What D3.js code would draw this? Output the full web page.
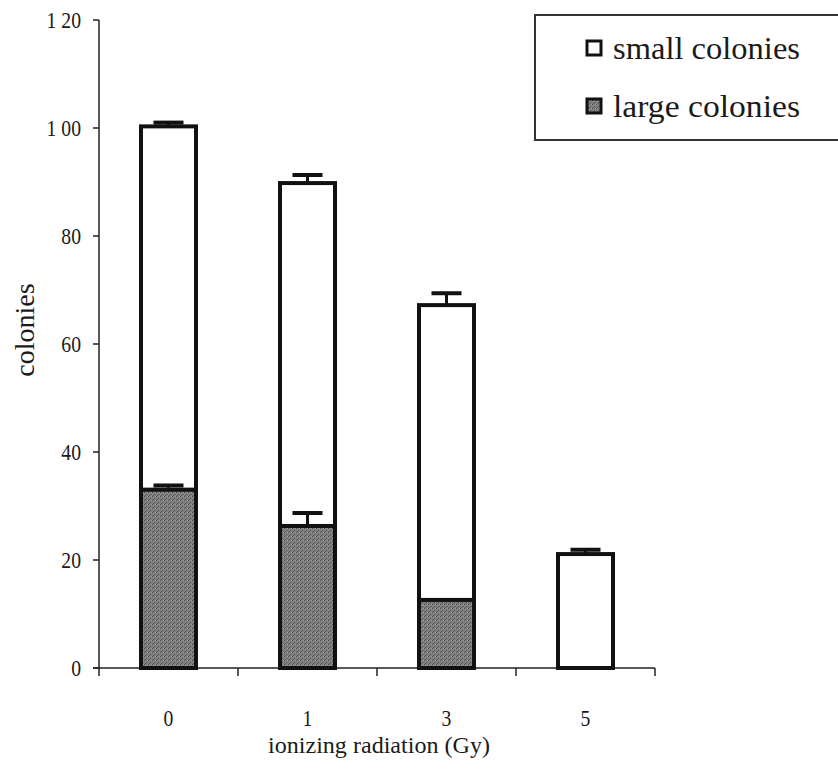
<!DOCTYPE html>
<html><head><meta charset="utf-8">
<script src="https://cdn.jsdelivr.net/npm/d3@7"></script>
<style>body{margin:0;background:#fff}svg{display:block}text{font-family:"Liberation Serif","Times New Roman",serif;fill:#1a1a1a}</style>
</head><body>
<svg id="c" width="838" height="770"></svg>
<script>
const categories = ["0","1","3","5"];
const largeColonies = [33.0, 26.3, 12.6, 0];
const smallColonies = [67.3, 63.5, 54.6, 21.1];
const totalErr = [0.7, 1.5, 2.2, 0.8];
const largeErr = [0.8, 2.4, 0, 0];
const yTicks = [0,20,40,60,80,100,120];
const yTickLabels = ["0","20","40","60","80","1 00","1 20"];
const legendLabels = ["small colonies","large colonies"];

const svg = d3.select("#c");
const x0 = 99, x1 = 655, yTop = 20, yBot = 668;
const x = d3.scaleBand().domain(categories).range([x0, x1]).padding(0);
const y = d3.scaleLinear().domain([0,120]).range([yBot, yTop]);
const SX = 0.82;

// texture pattern
const defs = svg.append("defs");
const pat = defs.append("pattern").attr("id","tex").attr("patternUnits","userSpaceOnUse").attr("width",4).attr("height",4);
pat.append("rect").attr("width",4).attr("height",4).attr("fill","#7e7e7e");
pat.append("rect").attr("x",0).attr("y",0).attr("width",1).attr("height",1).attr("fill","#4a4a4a");
pat.append("rect").attr("x",2).attr("y",2).attr("width",1).attr("height",1).attr("fill","#555");
pat.append("rect").attr("x",3).attr("y",0).attr("width",1).attr("height",1).attr("fill","#9a9a9a");
pat.append("rect").attr("x",1).attr("y",3).attr("width",1).attr("height",1).attr("fill","#5e5e5e");
pat.append("rect").attr("x",1).attr("y",1).attr("width",1).attr("height",1).attr("fill","#959595");

// axes
const ga = svg.append("g").attr("stroke","#222").attr("stroke-width",1.5);
ga.append("line").attr("x1",x0).attr("x2",x0).attr("y1",y(120)).attr("y2",yBot);
ga.append("line").attr("x1",x0-6).attr("x2",x1).attr("y1",yBot).attr("y2",yBot);
ga.selectAll(".yt").data(yTicks).join("line").attr("x1",x0-6).attr("x2",x0).attr("y1",d=>y(d)).attr("y2",d=>y(d));
const bounds = categories.map(c=>x(c)).concat([x1]);
ga.selectAll(".xt").data(bounds).join("line").attr("x1",d=>d).attr("x2",d=>d).attr("y1",yBot).attr("y2",yBot+8);

svg.selectAll(".yl").data(yTicks).join("text")
  .attr("transform",d=>`translate(81,${y(d)}) scale(${SX},1)`).attr("dy","0.35em").attr("text-anchor","end")
  .attr("font-size",24).text((d,i)=>yTickLabels[i]);

svg.selectAll(".xl").data(categories).join("text")
  .attr("transform",d=>`translate(${x(d)+x.bandwidth()/2},718) scale(${SX},1)`).attr("dy","0.35em").attr("text-anchor","middle")
  .attr("font-size",24).text(d=>d);

svg.append("text").attr("x",268).attr("y",753)
  .attr("font-size",23).attr("textLength",222).attr("lengthAdjust","spacingAndGlyphs").text("ionizing radiation (Gy)");

svg.append("text").attr("transform","translate(34,330) rotate(-90)").attr("text-anchor","middle")
  .attr("font-size",28).text("colonies");

// bars
const bw = 55;
const cx = c => x(c) + x.bandwidth()/2;
const bars = svg.append("g");
categories.forEach((c,i)=>{
  const L = largeColonies[i], S = smallColonies[i], T = L+S;
  const eg = bars.append("g").attr("stroke","#111");
  if (totalErr[i] > 0) {
    eg.append("line").attr("x1",cx(c)).attr("x2",cx(c)).attr("y1",y(T)).attr("y2",y(T+totalErr[i])).attr("stroke-width",3);
    eg.append("line").attr("x1",cx(c)-15).attr("x2",cx(c)+15).attr("y1",y(T+totalErr[i])).attr("y2",y(T+totalErr[i])).attr("stroke-width",4);
  }
  bars.append("rect").attr("x",cx(c)-bw/2).attr("width",bw).attr("y",y(T)).attr("height",y(L)-y(T))
    .attr("fill","#fff").attr("stroke","#111").attr("stroke-width",4);
  if (L > 0) {
    bars.append("rect").attr("x",cx(c)-bw/2).attr("width",bw).attr("y",y(L)).attr("height",y(0)-y(L))
      .attr("fill","url(#tex)").attr("stroke","#111").attr("stroke-width",4);
  }
  if (largeErr[i] > 0) {
    const g2 = bars.append("g").attr("stroke","#111");
    g2.append("line").attr("x1",cx(c)).attr("x2",cx(c)).attr("y1",y(L)-2).attr("y2",y(L+largeErr[i])).attr("stroke-width",3);
    g2.append("line").attr("x1",cx(c)-15).attr("x2",cx(c)+15).attr("y1",y(L+largeErr[i])).attr("y2",y(L+largeErr[i])).attr("stroke-width",4);
  }
});

// legend
const lg = svg.append("g");
lg.append("rect").attr("x",535).attr("y",15).attr("width",330).attr("height",125).attr("fill","#fff").attr("stroke","#333").attr("stroke-width",2);
const fills = ["#fff","url(#tex)"];
legendLabels.forEach((t,i)=>{
  const yy = 49 + i*58;
  lg.append("rect").attr("x",587).attr("y",yy-8).attr("width",14).attr("height",14).attr("fill",fills[i]).attr("stroke","#111").attr("stroke-width",3);
  lg.append("text").attr("x",613).attr("y",yy+10).attr("font-size",31).attr("textLength",187).attr("lengthAdjust","spacingAndGlyphs").text(t);
});
</script>
</body></html>
